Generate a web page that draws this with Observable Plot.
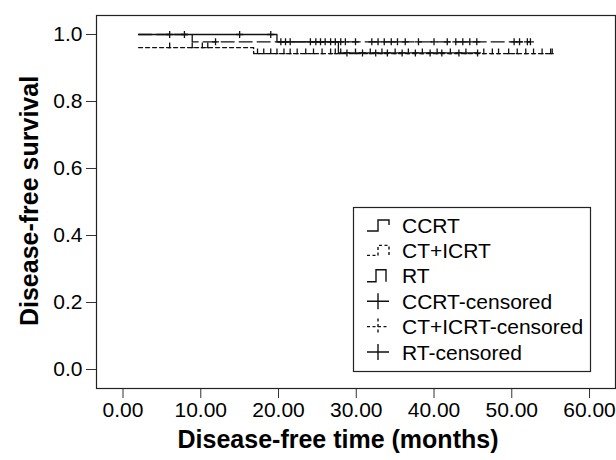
<!DOCTYPE html>
<html><head><meta charset="utf-8">
<script src="https://cdn.jsdelivr.net/npm/d3@7"></script>
<script src="https://cdn.jsdelivr.net/npm/@observablehq/plot@0.6"></script>
<style>
body{margin:0;background:#fff;}
svg{font-family:"Liberation Sans",Arial,sans-serif;}
</style>
</head><body><div id="chart"></div>
<script>
// Kaplan-Meier step points (time in months, survival)
const ccrtTime = [2, 19.8, 27.7, 45.6];
const ccrtSurv = [1.0, 0.978, 0.945, 0.945];
const ctTime = [2, 16.8, 55.2];
const ctSurv = [0.961, 0.943, 0.943];
const rtTime = [2, 8.9, 52.4];
const rtSurv = [1.0, 0.978, 0.978];
// censored times
const ccrtCensor = [6.0, 7.9, 15.0, 19.0, 20.3, 21.5, 24.8, 26.0, 27.3, 28.8, 30.8, 32.5, 34.0, 35.9, 37.6, 39.5, 41.0, 43.2, 45.6];
const ctCensor = [6.0, 8.9, 10.2, 10.9, 17.3, 18.1, 19.0, 19.8, 20.7, 21.5, 22.4, 23.5, 24.5, 25.6, 26.7, 27.3, 28.0, 29.9, 31.8, 33.3, 35.0, 36.7, 38.5, 40.4, 42.1, 44.1, 46.4, 47.5, 48.3, 49.6, 50.7, 51.8, 52.8, 53.9, 55.0, 55.2];
const rtCensor = [11.9, 20.9, 24.1, 25.4, 26.7, 28.0, 28.6, 29.9, 32.0, 32.8, 33.6, 34.5, 35.3, 36.3, 38.0, 40.0, 41.7, 42.8, 43.7, 44.6, 45.5, 50.3, 51.0, 52.0, 52.4];
const xTicks = [0, 10, 20, 30, 40, 50, 60];
const yTicks = [0, 0.2, 0.4, 0.6, 0.8, 1.0];
const legendLabels = ["CCRT", "CT+ICRT", "RT", "CCRT-censored", "CT+ICRT-censored", "RT-censored"];
const xTitle = "Disease-free time (months)";
const yTitle = "Disease-free survival";

const steps = (T, S) => T.map((t, i) => ({t, s: S[i]}));
const survAt = (T, S, t) => { let v = S[0]; T.forEach((tt, i) => { if (tt <= t) v = S[i]; }); return v; };
const censors = (C, T, S) => C.map(t => ({t, s: survAt(T, S, t)}));

const plusSym = {draw(ctx) { const r = 3.5; ctx.moveTo(-r, 0); ctx.lineTo(r, 0); ctx.moveTo(0, -r); ctx.lineTo(0, r); }};
const tickSym = {draw(ctx) { ctx.moveTo(-1.5, 0); ctx.lineTo(1.5, 0); ctx.moveTo(0, 0); ctx.lineTo(0, -5); }};

const ink = "#111";
const chart = Plot.plot({
  width: 616, height: 460,
  marginLeft: 96, marginRight: 1, marginTop: 15, marginBottom: 72,
  x: {domain: [-3.41, 63.34]},
  y: {domain: [-0.0567, 1.0567]},
  style: {fontFamily: "'Liberation Sans', Arial, sans-serif", fontSize: "21px", color: "#000", background: "#fff"},
  marks: [
    Plot.axisX({ticks: xTicks, tickFormat: d3.format(".2f"), tickSize: 10, tickPadding: 4, fontSize: 21, label: null, stroke: "#333"}),
    Plot.axisY({ticks: yTicks, tickFormat: d3.format(".1f"), tickSize: 10, tickPadding: 4, fontSize: 21, label: null, stroke: "#333"}),
    Plot.line(steps(ctTime, ctSurv), {x: "t", y: "s", curve: "step-after", stroke: ink, strokeWidth: 1.3, strokeDasharray: "4,3"}),
    Plot.line(steps(rtTime, rtSurv), {x: "t", y: "s", curve: "step-after", stroke: ink, strokeWidth: 1.3, strokeDasharray: "13,5"}),
    Plot.line(steps(ccrtTime, ccrtSurv), {x: "t", y: "s", curve: "step-after", stroke: ink, strokeWidth: 1.3}),
    Plot.dot(censors(ctCensor, ctTime, ctSurv), {x: "t", y: "s", symbol: tickSym, fill: "none", stroke: ink, strokeWidth: 1.3}),
    Plot.dot(censors(rtCensor, rtTime, rtSurv), {x: "t", y: "s", symbol: plusSym, fill: "none", stroke: ink, strokeWidth: 1.3}),
    Plot.dot(censors(ccrtCensor, ccrtTime, ccrtSurv), {x: "t", y: "s", symbol: plusSym, fill: "none", stroke: ink, strokeWidth: 1.3}),
    Plot.frame({stroke: "#222", strokeWidth: 1.2})
  ]
});
document.getElementById("chart").appendChild(chart);

const svg = d3.select(chart);
svg.append("text").attr("x", 338).attr("y", 448).attr("text-anchor", "middle")
  .attr("font-weight", "bold").attr("font-size", 25).attr("fill", "#000").text(xTitle);
svg.append("text").attr("transform", "translate(38,201) rotate(-90)").attr("text-anchor", "middle")
  .attr("font-weight", "bold").attr("font-size", 25).attr("fill", "#000").text(yTitle);

// legend
const lg = svg.append("g").attr("text-anchor", "start");
lg.append("rect").attr("x", 353.5).attr("y", 207.5).attr("width", 237).attr("height", 164)
  .attr("fill", "#fff").attr("stroke", "#222").attr("stroke-width", 1.2);
const rowY = i => 225 + i * 25.4;
legendLabels.forEach((lab, i) => {
  const y = rowY(i);
  lg.append("text").attr("x", 402).attr("y", y).attr("dy", "0.36em").attr("text-anchor", "start")
    .attr("font-size", 21).attr("fill", "#000").text(lab);
  let path, dash = null;
  if (i === 0) path = `M367,${y+6}H378V${y-5}H389V${y}`;
  if (i === 1) { path = `M367,${y+5}H378V${y-5}H389V${y+5}`; dash = "3,2.5"; }
  if (i === 2) path = `M367,${y+6}H376V${y-6}H386V${y+6}`;
  if (i === 3 || i === 5) path = `M367,${y}H389M378,${y-8}V${y+8}`;
  if (i === 4) { path = `M367,${y}H389M378,${y-8}V${y+8}`; dash = "3,2.5"; }
  lg.append("path").attr("d", path).attr("fill", "none").attr("stroke", ink).attr("stroke-width", 1.4)
    .attr("stroke-dasharray", dash);
});
</script>
</body></html>
